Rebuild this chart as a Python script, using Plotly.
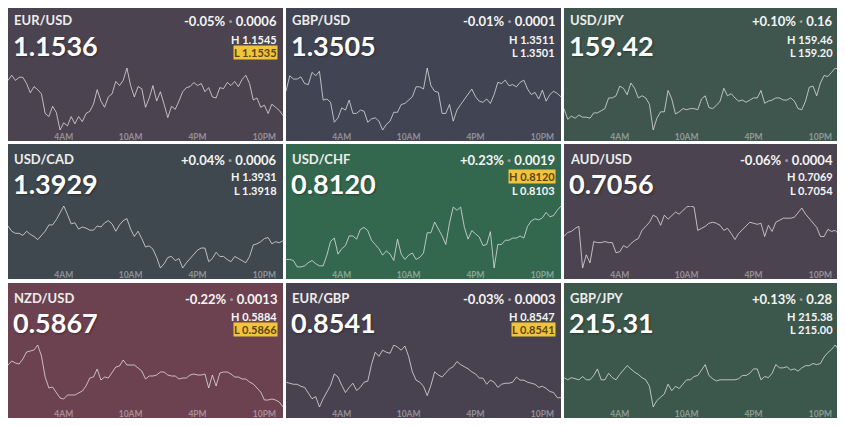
import pandas as pd
import plotly.graph_objects as go

# the page puts an 8px body margin round the plot, so draw in a 837x418 figure
PAGE_W, PAGE_H, OFF = 845, 426, 8
W, H = PAGE_W - OFF, PAGE_H - OFF

pairs = ["EUR/USD", "GBP/USD", "USD/JPY",
         "USD/CAD", "USD/CHF", "AUD/USD",
         "NZD/USD", "EUR/GBP", "GBP/JPY"]
last = ["1.1536", "1.3505", "159.42", "1.3929", "0.8120", "0.7056", "0.5867", "0.8541", "215.31"]
change_pct = ["-0.05%", "-0.01%", "+0.10%", "+0.04%", "+0.23%", "-0.06%", "-0.22%", "-0.03%", "+0.13%"]
change_abs = ["0.0006", "0.0001", "0.16", "0.0006", "0.0019", "0.0004", "0.0013", "0.0003", "0.28"]
highs = ["1.1545", "1.3511", "159.46", "1.3931", "0.8120", "0.7069", "0.5884", "0.8547", "215.38"]
lows = ["1.1535", "1.3501", "159.20", "1.3918", "0.8103", "0.7054", "0.5866", "0.8541", "215.00"]
# which side (H or L) is sitting on the current price -> yellow badge
touching = ["L", "", "", "", "H", "", "L", "L", ""]
tile_colors = ["#4b4350", "#414452", "#3e564e",
               "#3e484e", "#34684e", "#4b4350",
               "#6c4250", "#484250", "#3c584c"]

# 20 minute closes, 23:00 yesterday -> 23:40 today
times = pd.date_range("2025-07-01 23:00", periods=75, freq="20min")
tick_times = ["2025-07-02 04:00", "2025-07-02 10:00", "2025-07-02 16:00", "2025-07-02 22:00"]
tick_labels = ["4AM", "10AM", "4PM", "10PM"]

eur_usd = [1.1550, 1.1555, 1.1550, 1.1553, 1.1553, 1.1547, 1.1538, 1.1544, 1.1541, 1.1537,
           1.1518, 1.1515, 1.1525, 1.1519, 1.1502, 1.1509, 1.1506, 1.1515, 1.1508, 1.1515,
           1.1510, 1.1518, 1.1520, 1.1527, 1.1541, 1.1530, 1.1524, 1.1534, 1.1537, 1.1549,
           1.1545, 1.1550, 1.1562, 1.1545, 1.1534, 1.1544, 1.1542, 1.1524, 1.1533, 1.1545,
           1.1530, 1.1539, 1.1527, 1.1514, 1.1525, 1.1522, 1.1530, 1.1539, 1.1543, 1.1544,
           1.1548, 1.1545, 1.1547, 1.1539, 1.1543, 1.1534, 1.1533, 1.1543, 1.1542, 1.1548,
           1.1545, 1.1549, 1.1544, 1.1551, 1.1555, 1.1547, 1.1531, 1.1533, 1.1524, 1.1526,
           1.1518, 1.1527, 1.1524, 1.1521, 1.1516]
gbp_usd = [1.3520, 1.3534, 1.3531, 1.3531, 1.3533, 1.3527, 1.3526, 1.3537, 1.3534, 1.3538,
           1.3512, 1.3513, 1.3510, 1.3492, 1.3496, 1.3505, 1.3503, 1.3512, 1.3500, 1.3500,
           1.3503, 1.3502, 1.3492, 1.3495, 1.3496, 1.3493, 1.3485, 1.3490, 1.3493, 1.3501,
           1.3501, 1.3508, 1.3509, 1.3512, 1.3515, 1.3524, 1.3524, 1.3522, 1.3541, 1.3525,
           1.3520, 1.3519, 1.3500, 1.3500, 1.3508, 1.3493, 1.3503, 1.3508, 1.3513, 1.3517,
           1.3522, 1.3515, 1.3511, 1.3510, 1.3513, 1.3509, 1.3517, 1.3528, 1.3527, 1.3530,
           1.3525, 1.3526, 1.3524, 1.3528, 1.3530, 1.3522, 1.3517, 1.3519, 1.3513, 1.3521,
           1.3511, 1.3517, 1.3520, 1.3518, 1.3515]
usd_jpy = [159.03, 158.93, 158.96, 158.94, 158.97, 158.95, 158.95, 158.94, 158.99, 158.99,
           159.01, 159.03, 159.13, 159.13, 159.15, 159.24, 159.22, 159.16, 159.27, 159.22,
           159.13, 159.15, 159.13, 159.07, 158.83, 158.94, 159.00, 159.00, 159.20, 159.12,
           158.98, 159.00, 159.03, 159.02, 159.03, 159.03, 159.02, 159.12, 159.15, 159.04,
           159.03, 159.06, 159.10, 159.22, 159.15, 159.17, 159.13, 159.10, 159.11, 159.09,
           159.11, 159.13, 159.13, 159.20, 159.08, 159.10, 159.11, 159.13, 159.13, 159.11,
           159.11, 159.13, 159.10, 159.03, 159.02, 159.10, 159.23, 159.24, 159.15, 159.27,
           159.34, 159.33, 159.37, 159.41, 159.39]
usd_cad = [1.3941, 1.3936, 1.3934, 1.3934, 1.3932, 1.3936, 1.3933, 1.3931, 1.3928, 1.3932,
           1.3936, 1.3942, 1.3942, 1.3947, 1.3954, 1.3960, 1.3952, 1.3943, 1.3944, 1.3938,
           1.3940, 1.3939, 1.3937, 1.3937, 1.3941, 1.3940, 1.3944, 1.3946, 1.3943, 1.3936,
           1.3942, 1.3946, 1.3948, 1.3938, 1.3931, 1.3936, 1.3929, 1.3921, 1.3922, 1.3919,
           1.3911, 1.3901, 1.3905, 1.3911, 1.3912, 1.3908, 1.3910, 1.3901, 1.3906, 1.3910,
           1.3914, 1.3918, 1.3920, 1.3920, 1.3907, 1.3910, 1.3916, 1.3912, 1.3912, 1.3909,
           1.3907, 1.3912, 1.3910, 1.3908, 1.3906, 1.3912, 1.3923, 1.3924, 1.3926, 1.3929,
           1.3930, 1.3924, 1.3926, 1.3925, 1.3927]
usd_chf = [0.8092, 0.8092, 0.8091, 0.8085, 0.8085, 0.8086, 0.8089, 0.8091, 0.8088, 0.8086,
           0.8086, 0.8096, 0.8109, 0.8112, 0.8097, 0.8102, 0.8105, 0.8114, 0.8114, 0.8111,
           0.8120, 0.8122, 0.8119, 0.8110, 0.8106, 0.8102, 0.8096, 0.8100, 0.8097, 0.8091,
           0.8111, 0.8097, 0.8092, 0.8096, 0.8098, 0.8092, 0.8094, 0.8098, 0.8117, 0.8117,
           0.8127, 0.8121, 0.8114, 0.8106, 0.8126, 0.8141, 0.8138, 0.8141, 0.8122, 0.8111,
           0.8119, 0.8116, 0.8113, 0.8105, 0.8106, 0.8118, 0.8084, 0.8106, 0.8106, 0.8110,
           0.8110, 0.8112, 0.8112, 0.8114, 0.8112, 0.8123, 0.8128, 0.8130, 0.8129, 0.8131,
           0.8136, 0.8132, 0.8133, 0.8138, 0.8142]
aud_usd = [0.7062, 0.7066, 0.7067, 0.7070, 0.7072, 0.7031, 0.7044, 0.7036, 0.7057, 0.7056,
           0.7056, 0.7057, 0.7056, 0.7056, 0.7046, 0.7047, 0.7053, 0.7051, 0.7055, 0.7058,
           0.7060, 0.7068, 0.7072, 0.7076, 0.7083, 0.7081, 0.7073, 0.7083, 0.7079, 0.7083,
           0.7086, 0.7084, 0.7088, 0.7091, 0.7092, 0.7091, 0.7068, 0.7070, 0.7072, 0.7075,
           0.7076, 0.7075, 0.7073, 0.7068, 0.7070, 0.7065, 0.7059, 0.7065, 0.7069, 0.7073,
           0.7076, 0.7075, 0.7074, 0.7075, 0.7062, 0.7073, 0.7067, 0.7076, 0.7078, 0.7080,
           0.7080, 0.7080, 0.7081, 0.7086, 0.7090, 0.7084, 0.7080, 0.7076, 0.7071, 0.7062,
           0.7062, 0.7069, 0.7067, 0.7068, 0.7064]
nzd_usd = [0.5893, 0.5897, 0.5895, 0.5894, 0.5899, 0.5906, 0.5907, 0.5908, 0.5913, 0.5902,
           0.5881, 0.5870, 0.5871, 0.5865, 0.5860, 0.5859, 0.5863, 0.5863, 0.5863, 0.5865,
           0.5867, 0.5872, 0.5880, 0.5881, 0.5889, 0.5878, 0.5881, 0.5880, 0.5885, 0.5891,
           0.5892, 0.5898, 0.5893, 0.5893, 0.5893, 0.5890, 0.5887, 0.5879, 0.5882, 0.5882,
           0.5883, 0.5886, 0.5886, 0.5883, 0.5882, 0.5882, 0.5879, 0.5880, 0.5880, 0.5883,
           0.5884, 0.5883, 0.5883, 0.5884, 0.5870, 0.5883, 0.5872, 0.5885, 0.5886, 0.5886,
           0.5884, 0.5881, 0.5881, 0.5879, 0.5879, 0.5876, 0.5874, 0.5870, 0.5866, 0.5858,
           0.5858, 0.5859, 0.5858, 0.5856, 0.5851]
eur_gbp = [0.8546, 0.8545, 0.8544, 0.8544, 0.8542, 0.8541, 0.8535, 0.8530, 0.8532, 0.8522,
           0.8530, 0.8536, 0.8543, 0.8554, 0.8551, 0.8543, 0.8536, 0.8541, 0.8545, 0.8538,
           0.8541, 0.8546, 0.8547, 0.8563, 0.8575, 0.8571, 0.8577, 0.8575, 0.8574, 0.8582,
           0.8580, 0.8577, 0.8581, 0.8571, 0.8556, 0.8548, 0.8546, 0.8542, 0.8533, 0.8543,
           0.8556, 0.8553, 0.8551, 0.8555, 0.8559, 0.8561, 0.8566, 0.8563, 0.8561, 0.8559,
           0.8556, 0.8554, 0.8550, 0.8550, 0.8544, 0.8548, 0.8546, 0.8541, 0.8544, 0.8545,
           0.8545, 0.8546, 0.8551, 0.8548, 0.8548, 0.8546, 0.8545, 0.8544, 0.8541, 0.8542,
           0.8540, 0.8537, 0.8536, 0.8531, 0.8531]
gbp_jpy = [215.13, 215.11, 215.13, 215.12, 215.11, 215.14, 215.11, 215.11, 215.15, 215.21,
           215.11, 215.11, 215.17, 215.13, 215.11, 215.16, 215.20, 215.24, 215.21, 215.18,
           215.16, 215.13, 215.11, 215.05, 214.86, 214.92, 214.95, 214.98, 215.07, 215.01,
           215.05, 215.03, 215.07, 215.11, 215.11, 215.14, 215.15, 215.20, 215.25, 215.15,
           215.12, 215.10, 215.11, 215.11, 215.11, 215.11, 215.11, 215.12, 215.15, 215.15,
           215.17, 215.21, 215.21, 215.11, 215.14, 215.13, 215.17, 215.25, 215.22, 215.22,
           215.23, 215.20, 215.21, 215.19, 215.22, 215.24, 215.24, 215.26, 215.25, 215.26,
           215.32, 215.36, 215.39, 215.43, 215.38]

series = [eur_usd, gbp_usd, usd_jpy, usd_cad, usd_chf, aud_usd, nzd_usd, eur_gbp, gbp_jpy]

FONT = "Lato"
# tile boxes in page pixels
COL_X = [8, 286, 564]
ROW_Y = [6, 144, 283]
TILE_W, TILE_H = 275, 135


def px(x):
    return (x - OFF) / W


def py(y):
    return 1 - (y - OFF) / H


def label(x, y, text, anchor, size, color, shadow=None, **kw):
    font = dict(family=FONT, size=size, color=color)
    if shadow:
        font["shadow"] = shadow
    return dict(x=px(x), y=py(y), xref="paper", yref="paper", text=text,
                xanchor=anchor, yanchor="middle", showarrow=False, borderpad=0,
                font=font, **kw)


fig = go.Figure()
annotations = []
shapes = []

for i, pair in enumerate(pairs):
    r, c = divmod(i, 3)
    left, top = COL_X[c], ROW_Y[r]
    right = left + TILE_W
    n = "" if i == 0 else str(i + 1)

    shapes.append(dict(type="rect", xref="paper", yref="paper", layer="below",
                       x0=px(left), x1=px(right), y0=py(top + TILE_H), y1=min(1, py(top)),
                       fillcolor=tile_colors[i], line_width=0))

    fig.add_trace(go.Scatter(x=times, y=series[i], mode="lines",
                             line=dict(color="rgba(230,230,230,0.75)", width=1),
                             hoverinfo="skip", showlegend=False,
                             xaxis="x" + n, yaxis="y" + n))

    lo, hi = min(series[i]), max(series[i])
    fig.update_layout({
        "xaxis" + n: dict(domain=[px(left), px(right)], anchor="y" + n,
                          range=[times[0], times[-1]], showgrid=False, zeroline=False,
                          showline=False, ticks="", tickvals=tick_times, ticktext=tick_labels,
                          tickfont=dict(family=FONT, size=8.5, color="rgba(255,255,255,0.42)",
                                        weight="bold"),
                          ticklabelstandoff=0, fixedrange=True),
        "yaxis" + n: dict(domain=[py(top + 124), py(top + 62)], anchor="x" + n,
                          range=[lo, hi], visible=False, fixedrange=True),
    })

    annotations.append(label(left + 5, top + 14.5, f"<b>{pair}</b>", "left", 13, "#ececec"))
    annotations.append(label(left + 4, top + 39.5, f"<b>{last[i]}</b>", "left", 27, "#ffffff",
                             shadow="1px 1px 2px rgba(0,0,0,0.35)"))
    annotations.append(label(right - 5, top + 14.5,
                             f"<b>{change_pct[i]} <span style='color:#9c9c9c;font-size:15px'>·</span> {change_abs[i]}</b>",
                             "right", 13, "#f4f4f4"))
    for side, val, yy in (("H", highs[i], 33), ("L", lows[i], 46.5)):
        hot = touching[i] == side
        extra = dict(bgcolor="#f2c43c") if hot else {}
        annotations.append(label(right - 5, top + yy, f"<b>{side} {val}</b>", "right", 11,
                                 "#5a4610" if hot else "#f4f4f4", **extra))

fig.update_layout(
    width=W, height=H,
    margin=dict(l=0, r=0, t=0, b=0),
    paper_bgcolor="#ffffff",
    plot_bgcolor="rgba(0,0,0,0)",
    shapes=shapes,
    annotations=annotations,
)

fig.write_html("out.html")
